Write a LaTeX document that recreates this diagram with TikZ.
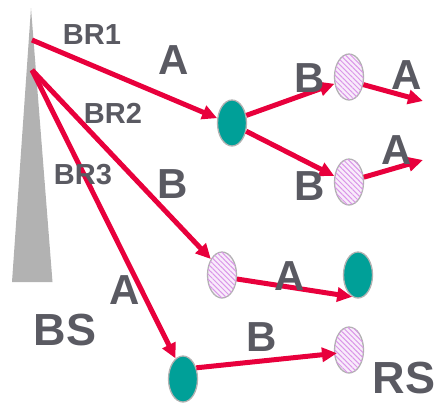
\documentclass[tikz,border=0pt]{standalone}
\usepackage{fontspec}
\setmainfont{Liberation Sans}
\usetikzlibrary{arrows.meta,shapes.geometric,patterns.meta}
\definecolor{beamred}{RGB}{232,0,60}
\definecolor{rsteal}{RGB}{0,160,152}
\definecolor{txtgray}{RGB}{90,90,98}
\definecolor{towergray}{RGB}{178,178,178}
\definecolor{hatchpink}{RGB}{218,150,232}
\definecolor{hatchbg}{RGB}{249,236,251}
\begin{document}
\begin{tikzpicture}[x=1pt,y=-1pt,
  beam/.style={draw=beamred,line width=5pt,-{Triangle[length=15pt,width=14pt]}},
  rsfull/.style={ellipse,draw=towergray,line width=1.3pt,fill=rsteal,
    minimum width=29pt,minimum height=46pt,inner sep=0pt},
  rshatch/.style={ellipse,draw=towergray,line width=1.3pt,fill=hatchbg,
    minimum width=29pt,minimum height=46pt,inner sep=0pt,
    postaction={pattern={Lines[angle=-45,distance=3.6pt,line width=1pt]},
      pattern color=hatchpink}},
  big/.style={text=txtgray,font=\bfseries\fontsize{42}{42}\selectfont,inner sep=0pt},
  huge/.style={text=txtgray,font=\bfseries\fontsize{45}{45}\selectfont,inner sep=0pt},
  small/.style={text=txtgray,font=\bfseries\fontsize{29}{29}\selectfont,inner sep=0pt}]
\useasboundingbox (0,0) rectangle (435,402);

% base station tower
\fill[towergray] (31,8) -- (52.5,282) -- (12,282) -- cycle;
\coordinate (br1) at (32,40);
\coordinate (br2) at (32,70);

% relay stations
\node[rsfull]  (t1) at (232,123) {};
\node[rshatch] (h1) at (349,77)  {};
\node[rshatch] (h2) at (349,182) {};
\node[rshatch] (h3) at (222,275) {};
\node[rsfull]  (t2) at (358,275) {};
\node[rsfull]  (t3) at (183,379) {};
\node[rshatch] (h4) at (349,350) {};
\coordinate (e1) at (423,101);
\coordinate (e2) at (423,160);

% beams
\draw[beam] (br1) -- (t1.162);
\draw[beam] (br2) -- (h3.125);
\draw[beam] (br2) -- (t3.110);
\draw[beam] (t1.28) -- (h1.205);
\draw[beam] (t1.-30) -- (h2.158);
\draw[beam] (h1.-28) -- (e1);
\draw[beam] (h2.18) -- (e2);
\draw[beam] (h3.-15) -- (t2.255);
\draw[beam] (t3.40) -- ([xshift=3pt]h4.192);

% labels
\node[small] (lbr1) at (92,35)  {BR1};
\node[small] (lbr2) at (113,113) {BR2};
\node[small] (lbr3) at (83,175) {BR3};
\node[big] (la1) at (174,60)  {A};
\node[big] (lb1) at (173,184) {B};
\node[big] (lb2) at (310,78)  {B};
\node[big] (la2) at (407,75)  {A};
\node[big] (lb3) at (310,186) {B};
\node[big] (la3) at (397,150) {A};
\node[big] (la4) at (290,276) {A};
\node[big] (lb4) at (262,337) {B};
\node[big] (la5) at (125,290) {A};
\node[huge] (lbs) at (65,330) {BS};
\node[huge] (lrs) at (404,378) {RS};
\end{tikzpicture}
\end{document}
